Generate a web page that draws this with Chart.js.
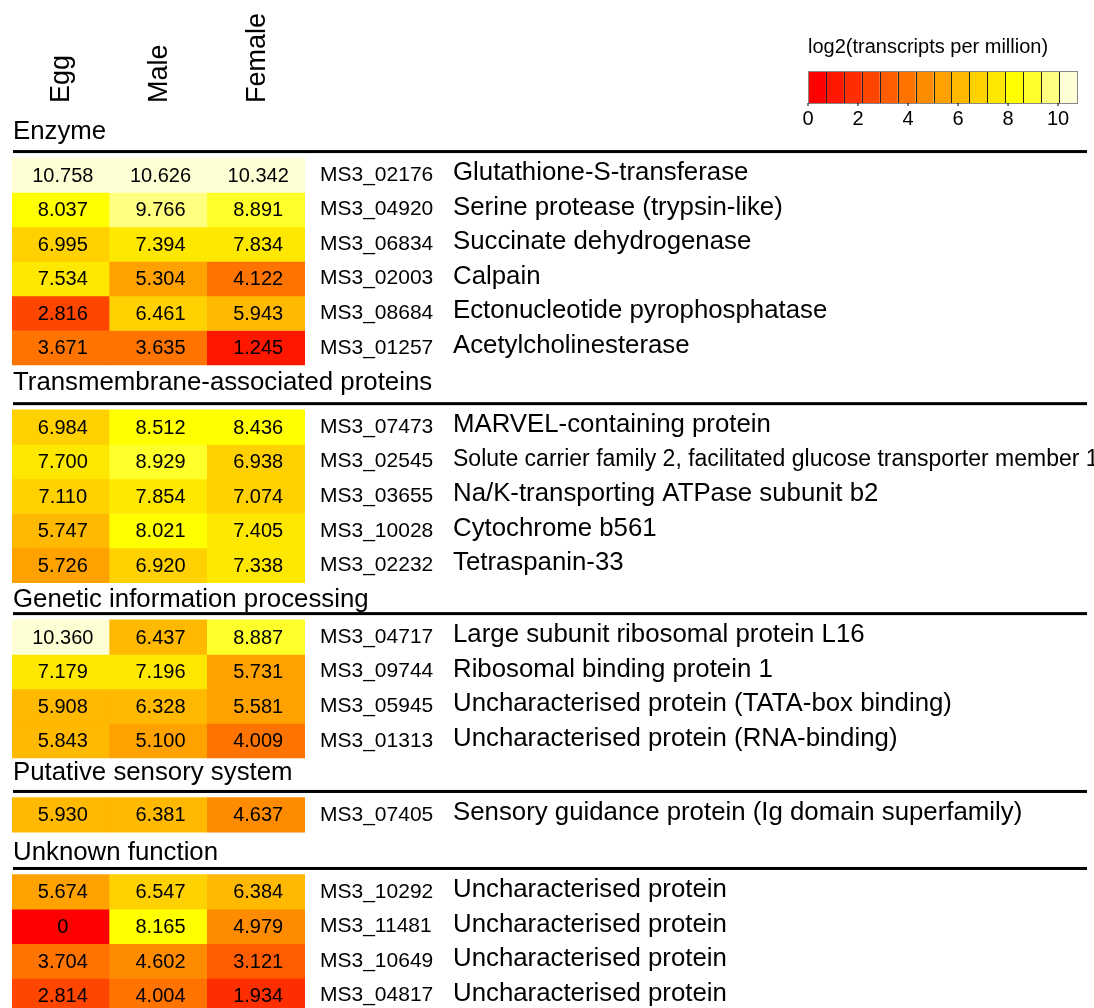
<!DOCTYPE html>
<html>
<head>
<meta charset="utf-8">
<script src="https://cdn.jsdelivr.net/npm/chart.js@4/dist/chart.umd.min.js"></script>
<style>
  html, body { margin: 0; padding: 0; background: #fff; }
  #wrap { width: 1094px; height: 1008px; position: relative; }
</style>
</head>
<body>
<div id="wrap"><canvas id="chart"></canvas></div>
<script>

// data

const columns = ['Egg', 'Male', 'Female'];

const sections = ['Enzyme', 'Transmembrane-associated proteins', 'Genetic information processing', 'Putative sensory system', 'Unknown function'];
const sectionSizes = [6, 5, 4, 1, 4];

const geneIds = [
  'MS3_02176', 'MS3_04920', 'MS3_06834', 'MS3_02003', 'MS3_08684', 'MS3_01257',
  'MS3_07473', 'MS3_02545', 'MS3_03655', 'MS3_10028', 'MS3_02232',
  'MS3_04717', 'MS3_09744', 'MS3_05945', 'MS3_01313',
  'MS3_07405',
  'MS3_10292', 'MS3_11481', 'MS3_10649', 'MS3_04817'
];

const descriptions = [
  'Glutathione-S-transferase', 'Serine protease (trypsin-like)', 'Succinate dehydrogenase', 'Calpain', 'Ectonucleotide pyrophosphatase', 'Acetylcholinesterase',
  'MARVEL-containing protein', 'Solute carrier family 2, facilitated glucose transporter member 1', 'Na/K-transporting ATPase subunit b2', 'Cytochrome b561', 'Tetraspanin-33',
  'Large subunit ribosomal protein L16', 'Ribosomal binding protein 1', 'Uncharacterised protein (TATA-box binding)', 'Uncharacterised protein (RNA-binding)',
  'Sensory guidance protein (Ig domain superfamily)',
  'Uncharacterised protein', 'Uncharacterised protein', 'Uncharacterised protein', 'Uncharacterised protein'
];

const eggValues = [10.758, 8.037, 6.995, 7.534, 2.816, 3.671, 6.984, 7.700, 7.110, 5.747, 5.726, 10.360, 7.179, 5.908, 5.843, 5.930, 5.674, 0, 3.704, 2.814];
const maleValues = [10.626, 9.766, 7.394, 5.304, 6.461, 3.635, 8.512, 8.929, 7.854, 8.021, 6.920, 6.437, 7.196, 6.328, 5.100, 6.381, 6.547, 8.165, 4.602, 4.004];
const femaleValues = [10.342, 8.891, 7.834, 4.122, 5.943, 1.245, 8.436, 6.938, 7.074, 7.405, 7.338, 8.887, 5.731, 5.581, 4.009, 4.637, 6.384, 4.979, 3.121, 1.934];

const legendTitle = 'log2(transcripts per million)';
const legendTicks = [0, 2, 4, 6, 8, 10];
const scaleMax = 10.758;
const binCount = 15;

// layout stuff

const FONT = '"Liberation Sans", Arial, Helvetica, sans-serif';
// space (in rows) from the last row of a section to the first row of the next
const sectionGaps = [2.3, 2.08, 2.15, 2.23];
// header text distance (px) above the first row of each section
const headerLift = [43, 44, 37, 42, 39];

// heat colours (red -> yellow -> pale)
function heatColor(v) {
  let bin = Math.min(binCount - 1, Math.floor(v / (scaleMax / binCount)));
  if (bin <= 11) {
    return `rgb(255,${Math.round(255 * bin / 11)},0)`;
  }
  const pale = ['#FFFF2A', '#FFFF80', '#FFFFD5'];
  return pale[bin - 12];
}

// row positions along the y scale
const rowPos = [];
const sectionStart = [];
let pos = 0;
sectionSizes.forEach((size, s) => {
  if (s > 0) pos += sectionGaps[s - 1] - 1;
  sectionStart.push(pos);
  for (let i = 0; i < size; i++) {
    rowPos.push(pos);
    pos++;
  }
});

const valueCols = [eggValues, maleValues, femaleValues];

const datasets = geneIds.map((id, r) => ({
  label: id,
  data: columns.map(() => [rowPos[r] - 0.5, rowPos[r] + 0.5]),
  backgroundColor: valueCols.map(col => heatColor(col[r])),
  borderWidth: 0,
  categoryPercentage: 1,
  barPercentage: 1,
  grouped: false
}));

// texts, rules and the colour key
const annotate = {
  id: 'annotate',
  afterDatasetsDraw(chart) {
    const ctx = chart.ctx;
    const x = chart.scales.x;
    const y = chart.scales.y;
    ctx.save();
    ctx.fillStyle = '#000';
    ctx.textBaseline = 'middle';

    // column names, rotated
    ctx.font = `27px ${FONT}`;
    ctx.textAlign = 'left';
    columns.forEach((name, c) => {
      ctx.save();
      ctx.translate(x.getPixelForValue(c) + 1, 103);
      ctx.rotate(-Math.PI / 2);
      ctx.fillText(name, 0, 0);
      ctx.restore();
    });

    // cell values
    ctx.font = `20px ${FONT}`;
    ctx.textAlign = 'center';
    valueCols.forEach((col, c) => {
      col.forEach((v, r) => {
        const py = y.getPixelForValue(rowPos[r]);
        if (py > chart.chartArea.bottom + 10) return;
        ctx.fillText(v === 0 ? '0' : v.toFixed(3), x.getPixelForValue(c) + 2, py + 1);
      });
    });

    // gene ids and descriptions
    ctx.textAlign = 'left';
    geneIds.forEach((id, r) => {
      const py = y.getPixelForValue(rowPos[r]);
      ctx.font = `21px ${FONT}`;
      ctx.fillText(id, 320, py);
      const long = descriptions[r].length > 55;
      ctx.font = long ? `23px ${FONT}` : `25.8px ${FONT}`;
      ctx.fillText(descriptions[r], 453, py - 2);
    });

    // section headers
    sections.forEach((name, s) => {
      const top = y.getPixelForValue(sectionStart[s]);
      ctx.font = `25.8px ${FONT}`;
      ctx.fillText(name, 13, top - headerLift[s]);
      ctx.fillRect(13, top - 25, 1074, 3);
    });

    // colour key
    const kx = 808, kw = 269, ky = 71, kh = 32;
    ctx.font = `20px ${FONT}`;
    ctx.fillText(legendTitle, kx, 47);
    const bw = kw / binCount;
    for (let i = 0; i < binCount; i++) {
      ctx.fillStyle = heatColor((i + 0.5) * scaleMax / binCount);
      ctx.fillRect(kx + i * bw, ky, bw, kh);
    }
    ctx.strokeStyle = '#222';
    ctx.lineWidth = 1;
    for (let i = 1; i < binCount; i++) {
      ctx.beginPath();
      ctx.moveTo(Math.round(kx + i * bw) + 0.5, ky);
      ctx.lineTo(Math.round(kx + i * bw) + 0.5, ky + kh);
      ctx.stroke();
    }
    ctx.strokeStyle = '#888';
    ctx.strokeRect(kx + 0.5, ky + 0.5, kw, kh);
    ctx.fillStyle = '#000';
    ctx.textAlign = 'center';
    legendTicks.forEach(t => {
      const tx = kx + t / scaleMax * kw;
      ctx.fillRect(tx - 0.5, ky + kh, 1, 3);
      ctx.fillText(String(t), tx, 119);
    });

    ctx.restore();
  }
};

const chart = new Chart(document.querySelector('#chart'), {
  type: 'bar',
  data: {
    labels: columns,
    datasets: datasets
  },
  options: {
    responsive: true,
    maintainAspectRatio: false,
    animation: false,
    devicePixelRatio: 1,
    layout: {
      padding: { left: 12, right: 789, top: 0, bottom: 0 }
    },
    plugins: {
      legend: { display: false },
      tooltip: { enabled: false }
    },
    scales: {
      x: {
        type: 'category',
        position: 'top',
        offset: true,
        grid: { display: false, drawTicks: false },
        border: { display: false },
        ticks: { display: false },
        afterFit(scale) {
          scale.height = 106;
        }
      },
      y: {
        type: 'linear',
        reverse: true,
        min: -2,
        max: 24.12,
        display: false
      }
    }
  },
  plugins: [annotate]
});

</script>
</body>
</html>
